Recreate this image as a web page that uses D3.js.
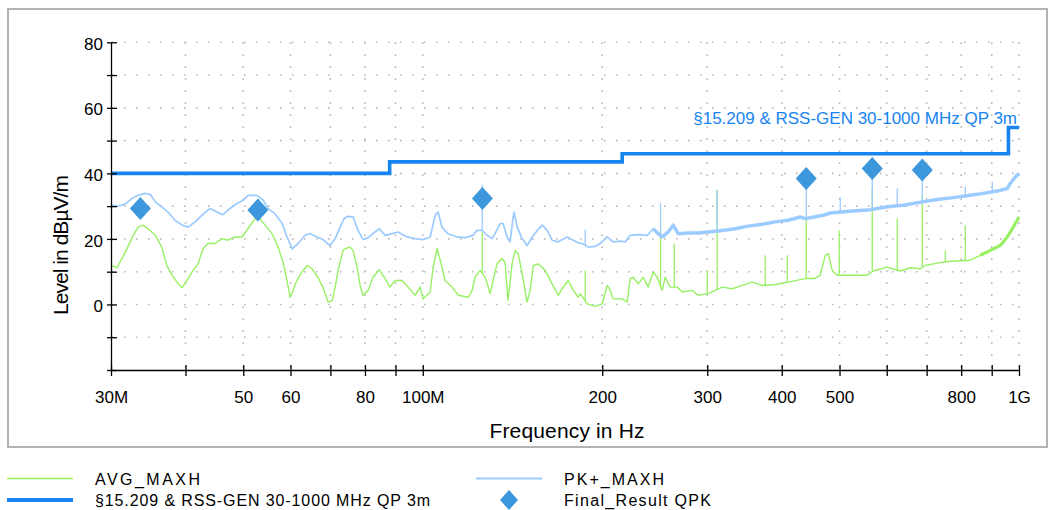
<!DOCTYPE html>
<html>
<head>
<meta charset="utf-8">
<script src="https://cdn.jsdelivr.net/npm/d3@7"></script>
<style>
  body { margin: 0; background: #fff; }
  svg { display: block; font-family: "Liberation Sans", Arial, sans-serif; }
</style>
</head>
<body>
<svg id="chart" width="1051" height="510"></svg>
<script>
// Axis ticks
const xTickValues = [30, 40, 50, 60, 70, 80, 90, 100, 200, 300, 400, 500, 600, 700, 800, 900, 1000];
const xTickLabels = ["30M", "", "50", "60", "", "80", "", "100M", "200", "300", "400", "500", "", "", "800", "", "1G"];
const yTickValues = [-20, -10, 0, 10, 20, 30, 40, 50, 60, 70, 80];
const yTickLabels = ["", "", "0", "", "20", "", "40", "", "60", "", "80"];

// AVG_MAXH trace [MHz, dBµV/m]
const avgTrace = [
  [30.0, 11.9], [30.7, 11.2], [31.4, 14.5], [32.0, 17.5], [32.7, 21.1], [33.3, 23.6], [34.0, 24.2], [34.6, 23.1],
  [35.6, 21.1], [36.5, 17.5], [37.2, 11.9], [38.0, 8.9], [38.7, 6.8], [39.5, 5.1], [40.2, 7.3], [41.2, 10.4],
  [42.0, 12.4], [42.8, 17.0], [43.6, 18.6], [44.8, 18.6], [46.1, 20.1], [47.1, 19.6], [48.4, 20.6], [49.8, 20.6],
  [50.9, 23.1], [52.3, 26.2], [53.3, 26.2], [54.4, 24.2], [55.9, 21.6], [57.2, 17.5], [58.3, 12.9], [59.2, 7.3],
  [59.9, 2.2], [60.6, 4.3], [61.5, 7.3], [62.7, 9.9], [64.0, 11.9], [65.2, 10.9], [66.7, 8.3], [68.0, 5.3],
  [69.4, 0.7], [70.5, 1.2], [71.3, 5.3], [72.1, 10.4], [73.5, 16.5], [74.1, 17.0], [75.5, 17.5], [76.4, 16.5],
  [77.6, 11.4], [78.5, 5.8], [79.4, 2.8], [81.0, 4.3], [82.5, 8.3], [84.5, 10.6], [86.5, 7.9], [88.1, 5.3],
  [89.9, 7.3], [92.3, 7.3], [94.5, 5.3], [97.1, 2.8], [99.0, 5.3], [100.1, 1.7], [102.9, 3.8], [104.1, 11.4],
  [105.7, 17.0], [107.0, 13.5], [109.0, 7.3], [112.0, 5.3], [114.7, 2.8], [119.2, 2.2], [121.0, 4.3], [122.4, 8.3],
  [124.8, 10.4], [127.3, 8.3], [129.7, 3.3], [131.2, 7.3], [133.2, 12.4], [135.8, 14.0], [137.4, 12.9], [139.0, 1.2],
  [141.2, 12.4], [142.9, 16.5], [144.6, 15.5], [146.8, 9.4], [149.6, 0.7], [151.4, 4.3], [153.2, 11.9], [156.2, 12.4],
  [160.5, 10.4], [164.8, 6.3], [168.7, 2.8], [172.0, 5.3], [175.4, 7.3], [178.8, 4.3], [182.3, 2.2], [183.7, 3.3],
  [188.7, 0.2], [194.6, -0.6], [200.0, 0.2], [203.9, 5.8], [206.3, 4.3], [208.6, 1.7], [216.0, 1.7], [220.2, 0.7],
  [222.8, 7.9], [225.4, 8.3], [229.8, 6.3], [234.3, 8.3], [238.9, 5.3], [243.5, 9.9], [247.3, 8.3], [252.1, 4.3],
  [255.0, 8.3], [260.0, 5.3], [267.1, 5.3], [272.4, 3.8], [283.1, 4.3], [289.7, 2.8], [301.1, 3.3], [317.8, 5.3],
  [330.4, 4.8], [343.4, 5.8], [356.9, 6.8], [370.9, 5.8], [390.1, 6.1], [410.1, 6.8], [438.0, 7.9], [453.5, 7.9],
  [464.1, 8.9], [473.2, 15.0], [478.7, 15.5], [486.2, 10.4], [495.6, 8.9], [521.2, 8.9], [556.5, 8.9], [569.6, 10.2],
  [601.2, 11.4], [632.2, 10.2], [657.2, 11.2], [683.1, 10.9], [696.3, 11.9], [729.3, 12.6], [766.9, 13.2], [828.5, 13.5],
  [861.1, 15.0], [895.1, 16.5], [930.3, 18.0], [955.8, 20.6], [978.3, 23.6], [1000, 26.7]
];

// PK+_MAXH trace [MHz, dBµV/m]
const pkTrace = [
  [30.0, 30.3], [30.8, 30.0], [31.7, 30.6], [32.5, 32.3], [33.3, 33.3], [34.2, 33.9], [34.9, 33.6], [35.6, 31.3],
  [36.5, 29.8], [37.4, 28.2], [38.4, 25.7], [39.5, 24.2], [40.4, 23.6], [41.5, 25.2], [42.6, 27.2], [44.0, 29.3],
  [45.2, 28.2], [46.2, 27.4], [47.5, 29.3], [48.8, 30.8], [50.0, 31.8], [50.9, 33.3], [52.7, 33.3], [54.0, 31.8],
  [55.0, 29.3], [56.5, 27.7], [58.1, 24.7], [59.2, 20.6], [60.4, 17.0], [61.8, 18.6], [63.5, 21.1], [64.7, 21.6],
  [66.5, 20.6], [68.0, 19.8], [69.9, 18.0], [71.3, 20.1], [72.7, 23.6], [73.8, 26.2], [74.9, 26.9], [76.4, 26.7],
  [77.9, 22.6], [79.4, 19.8], [81.0, 20.4], [82.5, 21.6], [84.5, 23.1], [86.5, 21.1], [88.8, 21.6], [90.9, 22.1],
  [94.1, 20.6], [97.1, 20.1], [100.1, 19.8], [102.9, 20.6], [104.9, 27.2], [106.1, 28.2], [107.7, 23.6], [110.2, 21.6],
  [114.2, 20.6], [117.8, 20.4], [121.4, 21.1], [123.3, 22.6], [125.8, 22.6], [128.2, 21.1], [130.7, 20.1], [132.2, 21.6],
  [134.8, 24.7], [136.4, 24.7], [138.5, 20.6], [140.1, 19.1], [141.8, 26.7], [142.3, 28.2], [144.0, 23.6], [146.8, 20.1],
  [149.6, 18.0], [152.6, 20.6], [155.6, 22.6], [158.6, 24.2], [161.7, 22.6], [164.8, 19.6], [168.7, 19.1], [174.7, 20.6],
  [178.8, 19.6], [183.0, 18.7], [185.1, 18.6], [189.5, 17.5], [194.6, 17.7], [198.4, 18.6], [203.9, 20.6], [208.6, 19.1],
  [214.3, 19.3], [218.6, 19.1], [222.8, 21.1], [229.8, 21.3], [237.9, 21.1], [243.5, 23.1], [248.2, 21.6], [252.1, 20.6],
  [258.0, 22.1], [263.0, 24.2], [268.2, 21.6], [278.7, 21.8], [289.7, 21.8], [301.1, 22.1], [317.8, 22.6], [334.2, 23.1],
  [351.5, 23.9], [370.9, 24.5], [390.1, 25.2], [410.1, 25.7], [429.6, 26.7], [438.0, 26.2], [453.5, 26.7], [469.5, 27.2],
  [482.4, 27.9], [501.4, 28.2], [527.3, 28.5], [563.0, 28.9], [601.2, 29.8], [639.6, 30.3], [688.3, 31.3], [729.3, 32.0],
  [775.9, 32.6], [851.2, 33.6], [919.5, 34.6], [955.8, 35.4], [967.0, 36.9], [985.8, 38.9], [1000, 40.0]
];

// narrow spikes [MHz, peak dBµV/m]
const pkSpikes = [
  [125.8, 36.6], [187.3, 22.8], [250.5, 31.0], [311.7, 34.9], [439.7, 40.0], [501.4, 32.8],
  [567.4, 40.5], [624.9, 35.4], [688.3, 39.5], [812.7, 35.9], [902.0, 37.4]
];
const avgSpikes = [
  [125.8, 22.0], [187.3, 10.4], [250.5, 22.6], [264.1, 18.6], [300.0, 10.4], [311.7, 34.9], [375.3, 15.0],
  [408.5, 15.0], [439.7, 26.5], [499.5, 22.6], [567.4, 35.4], [624.9, 26.2], [688.3, 33.8], [752.3, 16.5], [812.7, 24.2]
];

// Limit line
const limitFreq = [30, 88, 88, 216, 216, 960, 960, 1000];
const limitLevel = [40, 40, 43.5, 43.5, 46, 46, 54, 54];
const limitName = "§15.209 & RSS-GEN 30-1000 MHz QP 3m";

// Final results QPK
const finalFreq = [33.6, 52.9, 125.9, 439.7, 567.4, 688.3];
const finalLevel = [29.3, 28.8, 32.3, 38.4, 41.5, 41.0];

const limitColor = "#1784ef";
const pkColor = "#9ccbff";
const avgColor = "#98f065";
const finalColor = "#3d97dc";
const gridColor = "#bdbdbd";

const svg = d3.select("#chart");

// outer frame
svg.append("rect")
  .attr("x", 8).attr("y", 9).attr("width", 1039).attr("height", 438)
  .attr("fill", "none").attr("stroke", "#b3b3b3").attr("stroke-width", 2);

const x = d3.scaleLog().domain([30, 1000]).range([111, 1019]);
const y = d3.scaleLinear().domain([-20, 80]).range([370, 42.3]);

// dotted grid
const grid = svg.append("g");
grid.selectAll(".hgrid")
  .data(yTickValues.filter((d) => d > -20))
  .enter()
  .append("line")
  .attr("x1", x(30) + 1).attr("x2", x(1000) + 1)
  .attr("y1", (d) => y(d)).attr("y2", (d) => y(d));
grid.selectAll(".vgrid")
  .data(xTickValues.filter((d) => d > 30))
  .enter()
  .append("line")
  .attr("x1", (d) => x(d)).attr("x2", (d) => x(d))
  .attr("y1", y(80)).attr("y2", y(-20));
grid.selectAll("line")
  .attr("stroke", gridColor)
  .attr("stroke-width", 1.6)
  .attr("stroke-dasharray", "1.6 10.4");

const line = d3.line().x((d) => x(d[0])).y((d) => y(d[1]));

// value of a trace at a frequency, linear in log(f)
const traceAt = (trace, f) => {
  const i = Math.max(1, Math.min(trace.length - 1, d3.bisector((d) => d[0]).left(trace, f)));
  const a = trace[i - 1], b = trace[i];
  const t = (Math.log(f) - Math.log(a[0])) / (Math.log(b[0]) - Math.log(a[0]));
  return a[1] + t * (b[1] - a[1]);
};

const drawTrace = (trace, spikes, color, width, bandFrom) => {
  svg.append("path")
    .datum(trace)
    .attr("d", line)
    .attr("fill", "none")
    .attr("stroke", color)
    .attr("stroke-width", width)
    .attr("stroke-linejoin", "round");
  // the noisy upper band looks thicker in the original
  svg.append("path")
    .datum(trace.filter((d) => d[0] >= bandFrom))
    .attr("d", line)
    .attr("fill", "none")
    .attr("stroke", color)
    .attr("stroke-width", width + 1.8)
    .attr("stroke-linejoin", "round");
  svg.append("g")
    .selectAll("line")
    .data(spikes)
    .enter()
    .append("line")
    .attr("x1", (d) => x(d[0])).attr("x2", (d) => x(d[0]))
    .attr("y1", (d) => y(traceAt(trace, d[0]))).attr("y2", (d) => y(d[1]))
    .attr("stroke", color)
    .attr("stroke-width", 1.3);
};

drawTrace(avgTrace, avgSpikes, avgColor, 1.4, 850);
drawTrace(pkTrace, pkSpikes, pkColor, 1.7, 240);

// limit line
svg.append("path")
  .datum(limitFreq.map((f, i) => [f, limitLevel[i]]))
  .attr("d", line)
  .attr("fill", "none")
  .attr("stroke", limitColor)
  .attr("stroke-width", 3.6);

svg.append("text")
  .attr("x", 1017).attr("y", 124)
  .attr("text-anchor", "end")
  .attr("font-size", 17)
  .attr("fill", limitColor)
  .text(limitName);

// final result diamonds
const diamond = (w, h) => `M0,${-h} L${w},0 L0,${h} L${-w},0Z`;
svg.append("g")
  .selectAll("path")
  .data(finalFreq)
  .enter()
  .append("path")
  .attr("d", diamond(10.5, 11.5))
  .attr("transform", (d, i) => `translate(${x(d)},${y(finalLevel[i])})`)
  .attr("fill", finalColor);

// axes
const xAxis = svg.append("g")
  .attr("transform", `translate(0,${y(-20)})`)
  .call(d3.axisBottom(x).tickValues(xTickValues).tickFormat((d, i) => xTickLabels[i]).tickSize(6).tickSizeOuter(0));
xAxis.selectAll(".tick line").attr("y1", -5);
xAxis.selectAll(".tick text").attr("y", 33).attr("dy", null).attr("font-size", 17).attr("fill", "#000");

const yAxis = svg.append("g")
  .attr("transform", `translate(${x(30)},0)`)
  .call(d3.axisLeft(y).tickValues(yTickValues).tickFormat((d, i) => yTickLabels[i]).tickSize(4).tickSizeOuter(0));
yAxis.selectAll(".tick line").attr("x1", 6);
yAxis.selectAll(".tick text").attr("x", -8).attr("dy", "0.42em").attr("font-size", 17).attr("fill", "#000");

svg.selectAll(".domain, .tick line").attr("stroke", "#000").attr("stroke-width", 1.3);

// axis titles
svg.append("text")
  .attr("x", 567).attr("y", 438)
  .attr("text-anchor", "middle")
  .attr("font-size", 21)
  .attr("textLength", 155)
  .text("Frequency in Hz");

svg.append("text")
  .attr("transform", "translate(68,245) rotate(-90)")
  .attr("text-anchor", "middle")
  .attr("font-size", 21)
  .attr("textLength", 140)
  .text("Level in dBµV/m");

// legend
const legend = svg.append("g").attr("font-size", 16);
const legendItems = [
  { name: "AVG_MAXH", kind: "line", color: avgColor, width: 1.5, lx: 7, tx: 95, ty: 478.5, len: 105 },
  { name: "PK+_MAXH", kind: "line", color: pkColor, width: 2, lx: 476, tx: 564, ty: 478.5, len: 100 },
  { name: limitName, kind: "line", color: limitColor, width: 4, lx: 7, tx: 95, ty: 500, len: 335 },
  { name: "Final_Result QPK", kind: "diamond", color: finalColor, lx: 476, tx: 564, ty: 500, len: 147 },
];
legendItems.forEach((d) => {
  if (d.kind === "line") {
    legend.append("line")
      .attr("x1", d.lx).attr("x2", d.lx + 66)
      .attr("y1", d.ty).attr("y2", d.ty)
      .attr("stroke", d.color).attr("stroke-width", d.width);
  } else {
    legend.append("path")
      .attr("d", diamond(9, 10))
      .attr("transform", `translate(${d.lx + 33},${d.ty})`)
      .attr("fill", d.color);
  }
  legend.append("text")
    .attr("x", d.tx).attr("y", d.ty + 6)
    .attr("textLength", d.len)
    .text(d.name);
});
</script>
</body>
</html>
